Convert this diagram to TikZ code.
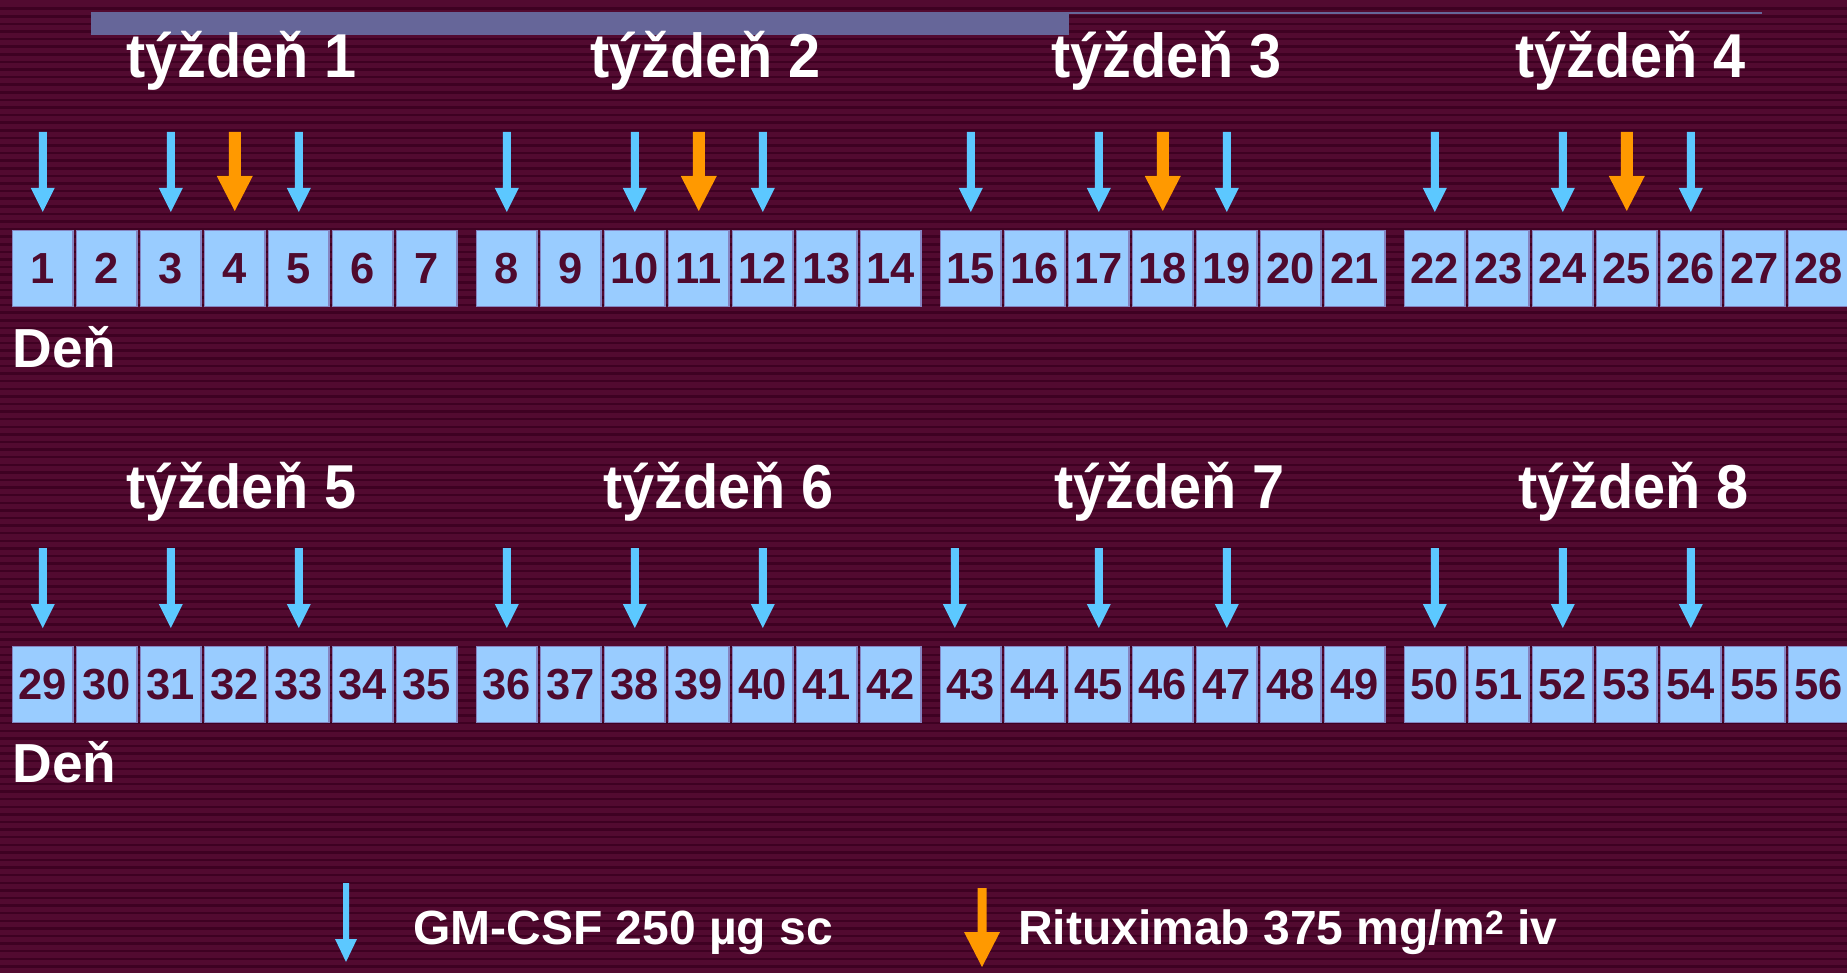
\documentclass[tikz,border=0pt]{standalone}
\usepackage{fontspec}
\setmainfont{Liberation Sans}
\newfontfamily\narrowsans{Liberation Sans}[FakeStretch=0.93]
\definecolor{bgmaroon}{HTML}{520A30}
\definecolor{bgline}{HTML}{3E0122}
\definecolor{barblue}{HTML}{666699}
\definecolor{boxfill}{HTML}{99CCFF}
\definecolor{boxedge}{HTML}{8585C2}
\definecolor{gmblue}{HTML}{5CC8FF}
\definecolor{rxorange}{HTML}{FF9900}
\definecolor{numcol}{HTML}{4F0A2E}
\tikzset{
  daybox/.style={draw=boxedge, line width=1.2pt, fill=boxfill, minimum width=60.5pt,
    minimum height=76.5pt, inner sep=0pt, text=numcol,
    font=\fontsize{43.5}{43.5}\selectfont\bfseries},
  weektitle/.style={anchor=base west, inner sep=0pt, text=white,
    font=\narrowsans\fontsize{62}{62}\selectfont\bfseries},
  denlabel/.style={anchor=base west, inner sep=0pt, text=white,
    font=\fontsize{55}{55}\selectfont\bfseries},
  legendtext/.style={anchor=base west, inner sep=0pt, text=white,
    font=\fontsize{48}{48}\selectfont\bfseries},
  gm arrow/.pic={\fill[gmblue] (-4,0) -- (-4,56) -- (-12,56) -- (0,80) -- (12,56) -- (4,56) -- (4,0) -- cycle;},
  rx arrow/.pic={\fill[rxorange] (-6,0) -- (-6,44) -- (-18,44) -- (0,79) -- (18,44) -- (6,44) -- (6,0) -- cycle;},
  gm key/.pic={\fill[gmblue] (-3,0) -- (-3,56) -- (-11,56) -- (0,79) -- (11,56) -- (3,56) -- (3,0) -- cycle;},
  rx key/.pic={\fill[rxorange] (-4.5,0) -- (-4.5,44) -- (-18,44) -- (0,79) -- (18,44) -- (4.5,44) -- (4.5,0) -- cycle;}
}
\begin{document}
\begin{tikzpicture}[x=1pt,y=-1pt]
\useasboundingbox (0,0) rectangle (1847,973);
\clip (0,0) rectangle (1847,973);
% striped background
\fill[bgmaroon] (0,0) rectangle (1847,973);
\foreach \k in {0,...,128}
  \fill[bgline] (0,{7.5+7.6*\k}) rectangle (1847,{10+7.6*\k});
% top bar
\fill[barblue] (91,12.5) rectangle (1069,35.5);
\fill[barblue] (1069,12) rectangle (1762,14.3);

% day boxes, two rows of four weeks
\foreach \r/\y in {0/268.5, 1/684.5} {
  \foreach \w in {0,...,3} {
    \foreach \d in {0,...,6} {
      \pgfmathtruncatemacro\n{28*\r+7*\w+\d+1}
      \node[daybox] (d\n) at ({42.75+464*\w+64*\d},\y) {\n};
    }
  }
}

% week titles
\node[weektitle] (w1) at (126,77.5) {týždeň 1};
\node[weektitle] (w2) at (590,77.5) {týždeň 2};
\node[weektitle] (w3) at (1051,77.5) {týždeň 3};
\node[weektitle] (w4) at (1515,77.5) {týždeň 4};
\node[weektitle] (w5) at (126,508.5) {týždeň 5};
\node[weektitle] (w6) at (603,508.5) {týždeň 6};
\node[weektitle] (w7) at (1054,508.5) {týždeň 7};
\node[weektitle] (w8) at (1518,508.5) {týždeň 8};

\node[denlabel] (den1) at (12.5,367.5) {Deň};
\node[denlabel] (den2) at (12.5,782) {Deň};

% GM-CSF and rituximab doses
\foreach \n in {1,3,5,8,10,12,15,17,19,22,24,26}
  \pic at (d\n |- 0,132) {gm arrow};
\foreach \n in {4,11,18,25}
  \pic at (d\n |- 0,132) {rx arrow};
\foreach \n in {29,31,33,36,38,40,45,47,50,52,54}
  \pic at (d\n |- 0,548) {gm arrow};
\coordinate (a43) at ([xshift=-16pt]d43.center);
\pic at (a43 |- 0,548) {gm arrow};

% key
\coordinate (k1) at (346,883);
\coordinate (k2) at (982,888);
\pic at (k1) {gm key};
\pic at (k2) {rx key};
\node[legendtext] (l1) at (413,944) {GM-CSF 250 µg sc};
\node[legendtext] (l2) at (1018,944) {Rituximab 375 mg/m\textsuperscript{2} iv};
\end{tikzpicture}
\end{document}
